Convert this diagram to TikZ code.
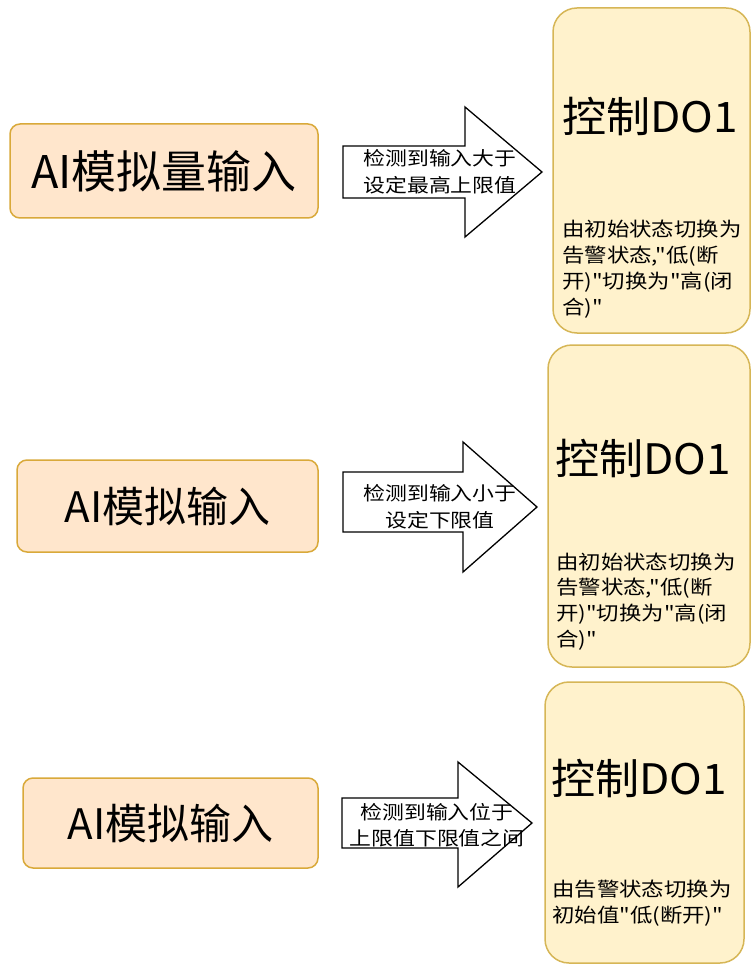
\documentclass[tikz,border=0pt]{standalone}
\usepackage{fontspec}
\setmainfont{Noto Sans CJK SC}
\newfontfamily\widecjk[FakeStretch=1.15]{Noto Sans CJK SC}
\newfontfamily\titlecjk[FakeStretch=1.05]{Noto Sans CJK SC}
\definecolor{inFill}{HTML}{FFE6CC}
\definecolor{inLine}{HTML}{D9A93A}
\definecolor{outFill}{HTML}{FFF2CC}
\definecolor{outLine}{HTML}{D6B656}
\tikzset{
  inbox/.style={draw=inLine, fill=inFill, line width=1.5pt, rounded corners=10pt, inner sep=0pt},
  outbox/.style={draw=outLine, fill=outFill, line width=1.5pt, rounded corners=24pt, inner sep=0pt},
  fatarrow/.style={draw=black, fill=white, line width=1.3pt, line join=miter},
  arrowtext/.style={inner sep=0pt, align=center, font=\widecjk\fontsize{19}{26.5}\selectfont},
  titletext/.style={inner sep=0pt, anchor=west, font=\titlecjk\fontsize{42}{46}\selectfont},
  bodytext/.style={inner sep=0pt, anchor=west, align=left, font=\widecjk\fontsize{19.5}{25.8}\selectfont}
}
\begin{document}
\begin{tikzpicture}[x=1pt,y=-1pt]
\useasboundingbox (0,0) rectangle (751,965);

% left input boxes
\node[inbox, minimum width=308pt, minimum height=94pt] (in1) at (164,171) {\fontsize{45}{50}\selectfont AI模拟量输入};
\node[inbox, minimum width=301pt, minimum height=92pt] (in2) at (167.5,506) {\fontsize{42}{46}\selectfont AI模拟输入};
\node[inbox, minimum width=295pt, minimum height=90pt] (in3) at (170.5,823) {\fontsize{42}{46}\selectfont AI模拟输入};

% right output boxes
\node[outbox, minimum width=197pt, minimum height=325pt] (out1) at (651.5,170.5) {};
\node[outbox, minimum width=202pt, minimum height=322pt] (out2) at (649,506) {};
\node[outbox, minimum width=199pt, minimum height=281pt] (out3) at (644.5,822.5) {};

\node[titletext] (t1) at (562,117) {控制DO1};
\node[titletext] (t2) at (555,458) {控制DO1};
\node[titletext] (t3) at (551,778) {控制DO1};

\node[bodytext] (b1) at (562,269) {由初始状态切换为\\告警状态,"低(断\\开)"切换为"高(闭\\合)"};
\node[bodytext] (b2) at (556,601.5) {由初始状态切换为\\告警状态,"低(断\\开)"切换为"高(闭\\合)"};
\node[bodytext] (b3) at (552,903.5) {由告警状态切换为\\初始值"低(断开)"};

% block arrows
\draw[fatarrow] (343,146) -- (465,146) -- (465,107) -- (542,172) -- (465,237) -- (465,198) -- (343,198) -- cycle;
\draw[fatarrow] (343,472) -- (463,472) -- (463,442) -- (537,507) -- (463,572) -- (463,532) -- (343,532) -- cycle;
\draw[fatarrow] (342,798) -- (458,798) -- (458,762) -- (532,823) -- (458,887) -- (458,848) -- (342,848) -- cycle;

\node[arrowtext] (a1) at (440,171.5) {检测到输入大于\\设定最高上限值};
\node[arrowtext] (a2) at (440,506.5) {检测到输入小于\\设定下限值};
\node[arrowtext] (a3) at (437,825) {检测到输入位于\\上限值下限值之间};
\end{tikzpicture}
\end{document}
